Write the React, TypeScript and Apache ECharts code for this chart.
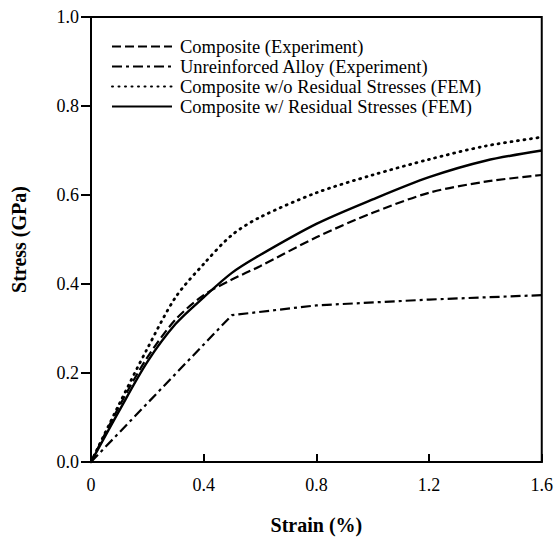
import React, { useEffect, useRef } from "react";
import * as echarts from "echarts";

const seriesNames = [
  "Composite (Experiment)",
  "Unreinforced Alloy (Experiment)",
  "Composite w/o Residual Stresses (FEM)",
  "Composite w/ Residual Stresses (FEM)",
];

const compExpStrain = [0, 0.1, 0.2, 0.3, 0.4, 0.5, 0.6, 0.8, 1.0, 1.2, 1.4, 1.6];
const compExpStress = [0, 0.125, 0.235, 0.32, 0.375, 0.41, 0.44, 0.505, 0.56, 0.605, 0.63, 0.645];

const alloyStrain = [0, 0.5, 0.8, 1.2, 1.6];
const alloyStress = [0, 0.33, 0.352, 0.365, 0.375];

const femNoResStrain = [0, 0.1, 0.2, 0.3, 0.4, 0.5, 0.6, 0.8, 1.0, 1.2, 1.4, 1.6];
const femNoResStress = [0, 0.13, 0.255, 0.37, 0.445, 0.51, 0.55, 0.605, 0.645, 0.68, 0.71, 0.73];

const femResStrain = [0, 0.1, 0.2, 0.3, 0.4, 0.5, 0.6, 0.8, 1.0, 1.2, 1.4, 1.6];
const femResStress = [0, 0.115, 0.225, 0.31, 0.37, 0.425, 0.465, 0.535, 0.59, 0.64, 0.677, 0.7];

const xTicks = [0, 0.4, 0.8, 1.2, 1.6];
const yTicks = [0, 0.2, 0.4, 0.6, 0.8, 1.0];

const zip = (xs: number[], ys: number[]) => xs.map((x, i) => [x, ys[i]]);

const FONT = "Liberation Serif";

export default function App() {
  const ref = useRef<HTMLDivElement>(null);
  useEffect(() => {
    if (!ref.current) return;
    const chart = echarts.init(ref.current, undefined, { renderer: "svg" });
    const lineBase = { type: "line", symbol: "none", smooth: 0.3, silent: true };
    chart.setOption({
      animation: false,
      backgroundColor: "#ffffff",
      grid: {
        left: 91,
        top: 17,
        width: 453,
        height: 451,
        show: true,
        borderColor: "#000",
        borderWidth: 2,
        backgroundColor: "transparent",
      },
      legend: {
        orient: "vertical",
        left: 106,
        top: 32,
        itemWidth: 60,
        itemHeight: 14,
        itemGap: 1,
        data: seriesNames,
        itemStyle: { opacity: 0 },
        textStyle: {
          fontFamily: FONT,
          fontSize: 18.5,
          lineHeight: 15,
          color: "#000",
          padding: [0, 0, 0, 3],
        },
        selectedMode: false,
      },
      xAxis: {
        type: "value",
        min: 0,
        max: 1.6,
        interval: 0.4,
        name: "Strain (%)",
        nameLocation: "middle",
        nameGap: 53,
        nameTextStyle: { fontFamily: FONT, fontSize: 20, fontWeight: "bold", color: "#000" },
        axisLine: { show: true, lineStyle: { color: "#000", width: 2 } },
        axisTick: { show: true, inside: true, length: 8, lineStyle: { color: "#000", width: 2 } },
        axisLabel: {
          fontFamily: FONT,
          fontSize: 18,
          color: "#000",
          margin: 14,
          formatter: (v: number) => (xTicks.includes(v) ? (v === 0 ? "0" : v.toFixed(1)) : ""),
        },
        splitLine: { show: false },
      },
      yAxis: {
        type: "value",
        min: 0,
        max: 1.0,
        interval: 0.2,
        name: "Stress (GPa)",
        nameLocation: "middle",
        nameGap: 62,
        nameTextStyle: { fontFamily: FONT, fontSize: 20, fontWeight: "bold", color: "#000" },
        axisLine: { show: true, lineStyle: { color: "#000", width: 2 } },
        axisTick: { show: true, inside: false, length: 10, lineStyle: { color: "#000", width: 2 } },
        axisLabel: {
          fontFamily: FONT,
          fontSize: 18,
          color: "#000",
          margin: 12,
          formatter: (v: number) => (yTicks.some((t) => Math.abs(t - v) < 1e-9) ? v.toFixed(1) : ""),
        },
        splitLine: { show: false },
      },
      series: [
        {
          ...lineBase,
          name: seriesNames[0],
          data: zip(compExpStrain, compExpStress),
          lineStyle: { color: "#000", width: 2.2, type: [9, 4] },
          itemStyle: { color: "#000" },
        },
        {
          ...lineBase,
          name: seriesNames[1],
          smooth: false,
          data: zip(alloyStrain, alloyStress),
          lineStyle: { color: "#000", width: 2.2, type: [10, 4, 3, 4] },
          itemStyle: { color: "#000" },
        },
        {
          ...lineBase,
          name: seriesNames[2],
          data: zip(femNoResStrain, femNoResStress),
          lineStyle: { color: "#000", width: 2.8, type: [1, 5.5], cap: "round" },
          itemStyle: { color: "#000" },
        },
        {
          ...lineBase,
          name: seriesNames[3],
          data: zip(femResStrain, femResStress),
          lineStyle: { color: "#000", width: 2.4, type: "solid" },
          itemStyle: { color: "#000" },
        },
      ],
    });
    return () => chart.dispose();
  }, []);
  return (
    <div
      ref={ref}
      style={{ position: "fixed", left: 0, top: 0, width: 556, height: 540, overflow: "hidden" }}
    />
  );
}
